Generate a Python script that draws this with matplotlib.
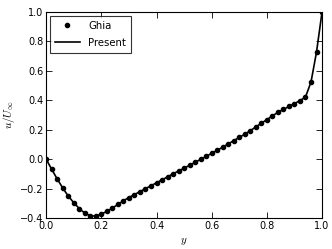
import numpy as np
from matplotlib import pyplot as plt

# u-velocity along vertical centreline, lid-driven cavity
y_ghia = [0.00, 0.02, 0.04, 0.06, 0.08, 0.10, 0.12, 0.14, 0.16, 0.18,
          0.20, 0.22, 0.24, 0.26, 0.28, 0.30, 0.32, 0.34, 0.36, 0.38,
          0.40, 0.42, 0.44, 0.46, 0.48, 0.50, 0.52, 0.54, 0.56, 0.58,
          0.60, 0.62, 0.64, 0.66, 0.68, 0.70, 0.72, 0.74, 0.76, 0.78,
          0.80, 0.82, 0.84, 0.86, 0.88, 0.90, 0.92, 0.94, 0.96, 0.98, 1.00]
u_ghia = [0.000, -0.068, -0.134, -0.195, -0.250, -0.295, -0.335, -0.366, -0.384, -0.386,
          -0.373, -0.354, -0.332, -0.307, -0.282, -0.260, -0.240, -0.220, -0.200, -0.180,
          -0.160, -0.140, -0.120, -0.099, -0.080, -0.061, -0.041, -0.021, -0.001, 0.019,
          0.040, 0.060, 0.082, 0.104, 0.126, 0.148, 0.170, 0.194, 0.219, 0.244,
          0.269, 0.294, 0.318, 0.338, 0.358, 0.378, 0.398, 0.422, 0.524, 0.728, 1.000]

y_present = y_ghia
u_present = u_ghia

plt.rc('font', size=7)
plt.rc('mathtext', fontset='cm')
plt.rc('xtick', direction='in', top=True)
plt.rc('ytick', direction='in', right=True)

fig = plt.figure(figsize=(3.32, 2.49), dpi=100)
ax = fig.add_axes([0.139, 0.124, 0.831, 0.828])

ax.plot(y_ghia, u_ghia, 'o', color='black', markersize=3, label='Ghia')
ax.plot(y_present, u_present, '-', color='black', linewidth=1.2, label='Present')

ax.set_xlim(0, 1)
ax.set_ylim(-0.4, 1.0)
ax.set_xticks(np.arange(0, 1.01, 0.2))
ax.set_yticks(np.arange(-0.4, 1.01, 0.2))
ax.tick_params(length=4, width=0.6, pad=2)
ax.set_xlabel(r'$y$', fontsize=8)
ax.set_ylabel(r'$u/U_\infty$', fontsize=8, labelpad=2)

leg = ax.legend(loc='upper left', numpoints=1, fancybox=False, fontsize=7.3,
                borderaxespad=0.35, handlelength=2.5, labelspacing=0.7,
                borderpad=0.5)
leg.get_frame().set_edgecolor('black')
leg.get_frame().set_linewidth(0.8)

fig.savefig('out.png', dpi=100)
